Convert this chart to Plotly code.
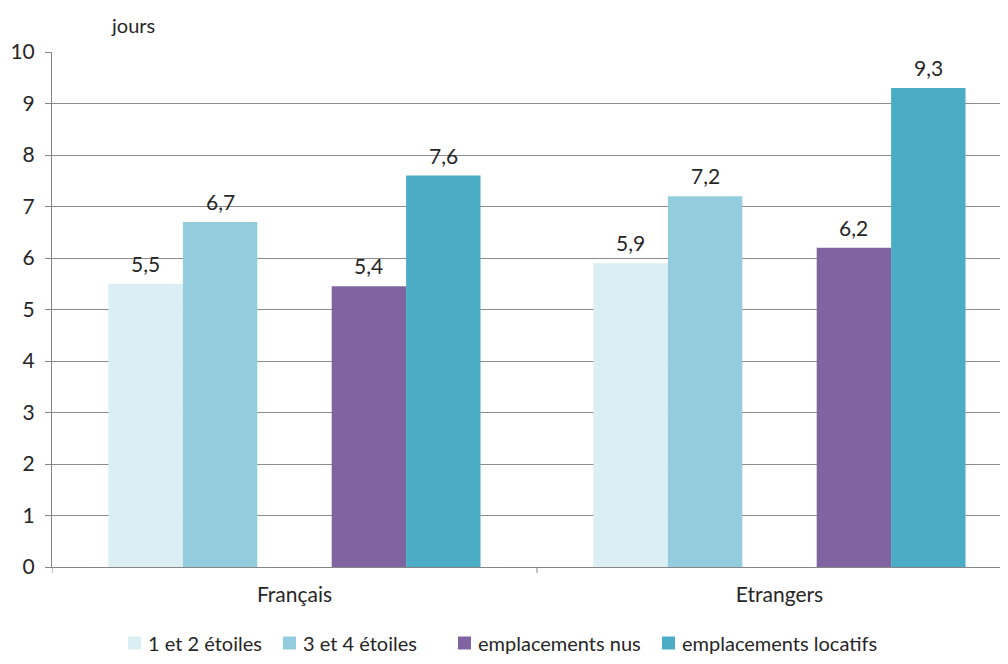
import plotly.graph_objects as go

categories = ["Français", "Etrangers"]
series_names = ["1 et 2 étoiles", "3 et 4 étoiles", "emplacements nus", "emplacements locatifs"]
v_12 = [5.5, 5.9]
v_34 = [6.7, 7.2]
v_nus = [5.45, 6.2]
v_loc = [7.6, 9.3]
labels_12 = ["5,5", "5,9"]
labels_34 = ["6,7", "7,2"]
labels_nus = ["5,4", "6,2"]
labels_loc = ["7,6", "9,3"]
colors = ["#DAEEF3", "#93CDDD", "#8064A2", "#4BACC6"]

values = [v_12, v_34, v_nus, v_loc]
texts = [labels_12, labels_34, labels_nus, labels_loc]
slot = [0, 1, 3, 4]          # slot 2 is an empty series in the original chart
n_slots = 5
bargap = 0.233
slot_w = (1 - bargap) / n_slots

# page body has an 8px margin: figure is drawn at offset (8, 8)
W, H = 992, 648
L, T, B = 44, 44, 89
plot_w = W - L
plot_h = H - T - B
x_end = -0.5 + plot_w / 485.0

# legend layout (page pixels)
legend_swatch_x = [128, 283, 458, 662]
legend_y = 643
sw = 13


def px_x(p):
    return (p - 52) / plot_w


def px_y(p):
    return (567 - p) / plot_h


fig = go.Figure()
annotations = []
shapes = []
for k, (name, vals, txt, col, s) in enumerate(zip(series_names, values, texts, colors, slot)):
    offs = (s - (n_slots - 1) / 2) * slot_w
    fig.add_trace(go.Bar(
        x=[i + offs for i in range(len(categories))], y=vals, name=name,
        width=slot_w, marker=dict(color=col, line=dict(width=0)),
    ))
    for i, (v, t) in enumerate(zip(vals, txt)):
        annotations.append(dict(x=i + offs, y=v, xref="x", yref="y", text=t,
                                showarrow=False, yanchor="bottom", yshift=6,
                                font=dict(size=21, color="#262626")))
    # legend entry
    sx = legend_swatch_x[k]
    shapes.append(dict(type="rect", xref="paper", yref="paper",
                       x0=px_x(sx), x1=px_x(sx + sw),
                       y0=px_y(legend_y + sw / 2), y1=px_y(legend_y - sw / 2),
                       fillcolor=col, line=dict(width=0)))
    annotations.append(dict(text=name, xref="paper", yref="paper", x=px_x(sx + sw + 5),
                            y=px_y(legend_y), xanchor="left", yanchor="middle",
                            showarrow=False, font=dict(size=20, color="#262626")))

annotations.append(dict(text="jours", xref="paper", yref="paper", x=px_x(109), y=1.0,
                        yanchor="middle", yshift=27, showarrow=False,
                        font=dict(size=20, color="#262626")))

# category boundary tick marks on the x axis (at -0.5, 0.5, 1.5)
for b in [-0.5, 0.5, 1.5]:
    shapes.append(dict(type="line", xref="x", yref="paper", x0=b, x1=b, y0=0, y1=-6 / plot_h,
                       line=dict(color="#868686", width=1)))

fig.update_layout(
    width=W, height=H,
    font=dict(family="Lato, Noto Sans, sans-serif", color="#262626"),
    paper_bgcolor="white", plot_bgcolor="white",
    margin=dict(l=L, r=0, t=T, b=B),
    barmode="overlay",
    showlegend=False,
    xaxis=dict(range=[-0.5, x_end], tickmode="array", tickvals=list(range(len(categories))),
               ticktext=categories, showline=True, linecolor="#868686", linewidth=1,
               ticks="", tickfont=dict(size=21), showgrid=False, zeroline=False,
               ticklabelstandoff=9),
    yaxis=dict(range=[0, 10], dtick=1, showline=True, linecolor="#868686", linewidth=1,
               ticks="outside", ticklen=6, tickcolor="#868686",
               showgrid=True, gridcolor="#8C8C8C", gridwidth=1,
               tickfont=dict(size=21), zeroline=False, ticklabelstandoff=6),
    annotations=annotations,
    shapes=shapes,
)

fig.write_html("out.html")
